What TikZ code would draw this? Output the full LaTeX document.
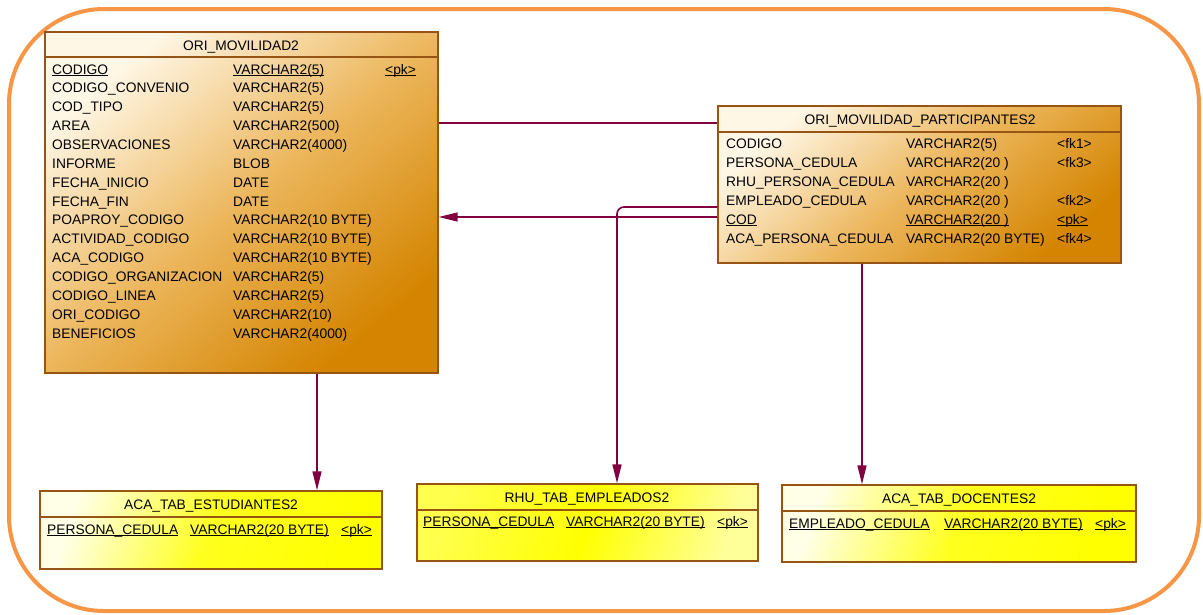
\documentclass[tikz,border=0pt]{standalone}
\usepackage{fontspec}
\setmainfont{Liberation Sans}
\usetikzlibrary{arrows.meta,fit}
\definecolor{framec}{RGB}{247,150,70}
\definecolor{relc}{RGB}{128,0,64}
\definecolor{bordc}{RGB}{150,85,20}
\definecolor{olight}{RGB}{255,247,230}
\definecolor{omid}{RGB}{236,182,92}
\definecolor{odark}{RGB}{212,132,0}
\definecolor{ylight}{RGB}{255,255,232}
\definecolor{ydark}{RGB}{255,255,0}
\newcommand\ulx[1]{\underline{\smash{#1}}}
\tikzset{
  x=1pt, y=-1pt,
  tblbox/.style={draw=bordc, line width=1.3pt, inner sep=0pt},
  orangefill/.style={top color=olight, bottom color=odark, middle color=omid, shading angle=40},
  yellowfill/.style={top color=ylight, bottom color=ydark, middle color=ydark!88!white, shading angle=70},
  yellowfillb/.style={top color=ydark!70!white, bottom color=ydark!40!white, middle color=ydark, shading angle=72},
  txt/.style={anchor=base west, inner sep=0pt, font=\fontsize{13.8}{16}\selectfont},
  ttl/.style={anchor=base, inner sep=0pt, font=\fontsize{13.8}{16}\selectfont},
  sepline/.style={draw=bordc, line width=1.3pt},
  relline/.style={draw=relc, line width=1.4pt},
  relarrow/.style={relline, -{Triangle[length=19pt,width=9pt]}},
}
\begin{document}
\begin{tikzpicture}
\useasboundingbox (0,0) rectangle (1203,614);
\draw[framec, line width=4pt, rounded corners=95pt] (9,9) rectangle (1199,611);

% ORI_MOVILIDAD2
\node[tblbox, orangefill, fit={(45,32)(438,373)}] (ori) {};
\coordinate (oh) at (0,57);
\draw[sepline] (ori.west |- oh) -- (ori.east |- oh);
\node[ttl] (orit) at (241,50) {ORI\_MOVILIDAD2};
\foreach [count=\i] \a/\b/\c in {
  {\ulx{CODIGO}}/{\ulx{VARCHAR2(5)}}/{\ulx{<pk>}},
  CODIGO\_CONVENIO/VARCHAR2(5)/{},
  COD\_TIPO/VARCHAR2(5)/{},
  AREA/VARCHAR2(500)/{},
  OBSERVACIONES/VARCHAR2(4000)/{},
  INFORME/BLOB/{},
  FECHA\_INICIO/DATE/{},
  FECHA\_FIN/DATE/{},
  POAPROY\_CODIGO/VARCHAR2(10 BYTE)/{},
  ACTIVIDAD\_CODIGO/VARCHAR2(10 BYTE)/{},
  ACA\_CODIGO/VARCHAR2(10 BYTE)/{},
  CODIGO\_ORGANIZACION/VARCHAR2(5)/{},
  CODIGO\_LINEA/VARCHAR2(5)/{},
  ORI\_CODIGO/VARCHAR2(10)/{},
  BENEFICIOS/VARCHAR2(4000)/{}} {
  \node[txt] (oa\i) at (52,{74+(\i-1)*18.86}) {\a};
  \node[txt] (ob\i) at (233,{74+(\i-1)*18.86}) {\b};
  \node[txt] (oc\i) at (385,{74+(\i-1)*18.86}) {\c};
}

% ORI_MOVILIDAD_PARTICIPANTES2
\node[tblbox, orangefill, fit={(718,106)(1121,263)}] (part) {};
\coordinate (ph) at (0,132);
\draw[sepline] (part.west |- ph) -- (part.east |- ph);
\node[ttl] (partt) at (920,124) {ORI\_MOVILIDAD\_PARTICIPANTES2};
\foreach [count=\i] \a/\b/\c in {
  CODIGO/VARCHAR2(5)/{<fk1>},
  PERSONA\_CEDULA/{VARCHAR2(20\ )}/{<fk3>},
  RHU\_PERSONA\_CEDULA/{VARCHAR2(20\ )}/{},
  EMPLEADO\_CEDULA/{VARCHAR2(20\ )}/{<fk2>},
  {\ulx{COD}}/{\ulx{VARCHAR2(20\ )}}/{\ulx{<pk>}},
  ACA\_PERSONA\_CEDULA/VARCHAR2(20 BYTE)/{<fk4>}} {
  \node[txt] (pa\i) at (726,{148+(\i-1)*19}) {\a};
  \node[txt] (pb\i) at (906,{148+(\i-1)*19}) {\b};
  \node[txt] (pc\i) at (1057,{148+(\i-1)*19}) {\c};
}

% ACA_TAB_ESTUDIANTES2
\node[tblbox, yellowfill, fit={(40,491)(382,569)}] (est) {};
\coordinate (eh) at (0,517);
\draw[sepline] (est.west |- eh) -- (est.east |- eh);
\node[ttl] (estt) at (211,509) {ACA\_TAB\_ESTUDIANTES2};
\node[txt] (esta) at (47,534) {\ulx{PERSONA\_CEDULA}};
\node[txt] (estb) at (190,534) {\ulx{VARCHAR2(20 BYTE)}};
\node[txt] (estc) at (341,534) {\ulx{<pk>}};

% RHU_TAB_EMPLEADOS2
\node[tblbox, yellowfillb, fit={(417,484)(758,561)}] (rhu) {};
\coordinate (rh) at (0,510);
\draw[sepline] (rhu.west |- rh) -- (rhu.east |- rh);
\node[ttl] (rhut) at (587,502) {RHU\_TAB\_EMPLEADOS2};
\node[txt] (rhua) at (423,526) {\ulx{PERSONA\_CEDULA}};
\node[txt] (rhub) at (566,526) {\ulx{VARCHAR2(20 BYTE)}};
\node[txt] (rhuc) at (717,526) {\ulx{<pk>}};

% ACA_TAB_DOCENTES2
\node[tblbox, yellowfill, fit={(782,485)(1136,562)}] (doc) {};
\coordinate (dh) at (0,511);
\draw[sepline] (doc.west |- dh) -- (doc.east |- dh);
\node[ttl] (doct) at (959,503) {ACA\_TAB\_DOCENTES2};
\node[txt] (doca) at (789,528) {\ulx{EMPLEADO\_CEDULA}};
\node[txt] (docb) at (944,528) {\ulx{VARCHAR2(20 BYTE)}};
\node[txt] (docc) at (1095,528) {\ulx{<pk>}};

% connectors
\coordinate (y1) at (0,123);
\coordinate (y2) at (0,217);
\coordinate (y3) at (0,207);
\coordinate (xr) at (617,0);
\coordinate (xd) at (862,0);
\coordinate (xe) at (317,0);
\draw[relline] (ori.east |- y1) -- (part.west |- y1);
\draw[relarrow] (part.west |- y2) -- (ori.east |- y2);
\draw[relarrow, line width=1.6pt, rounded corners=7pt] (part.west |- y3) -- (xr |- y3) -- (rhu.north -| xr);
\draw[relarrow] (part.south -| xd) -- (doc.north -| xd);
\draw[relarrow] (ori.south -| xe) -- (est.north -| xe);
\end{tikzpicture}
\end{document}
